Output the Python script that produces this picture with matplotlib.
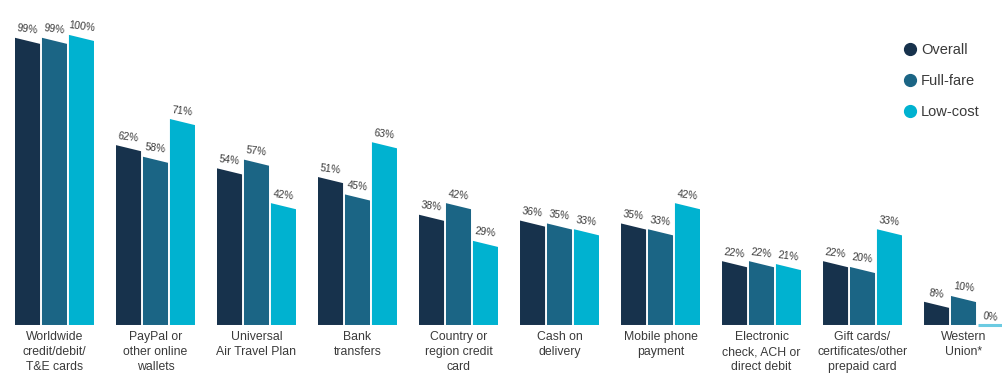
import matplotlib
matplotlib.use("Agg")
import matplotlib.pyplot as plt
from matplotlib.lines import Line2D
import numpy as np

categories = [
    "Worldwide\ncredit/debit/\nT&E cards",
    "PayPal or\nother online\nwallets",
    "Universal\nAir Travel Plan",
    "Bank\ntransfers",
    "Country or\nregion credit\ncard",
    "Cash on\ndelivery",
    "Mobile phone\npayment",
    "Electronic\ncheck, ACH or\ndirect debit",
    "Gift cards/\ncertificates/other\nprepaid card",
    "Western\nUnion*",
]
overall = [99, 62, 54, 51, 38, 36, 35, 22, 22, 8]
full_fare = [99, 58, 57, 45, 42, 35, 33, 22, 20, 10]
low_cost = [100, 71, 42, 63, 29, 33, 42, 21, 33, 0]

series_names = ["Overall", "Full-fare", "Low-cost"]
series_values = [overall, full_fare, low_cost]
colors = ["#17324c", "#1b6585", "#00b2d0"]

plt.rcParams["font.family"] = ["Liberation Sans Narrow", "Liberation Sans", "DejaVu Sans"]

W, H = 1003, 383
fig = plt.figure(figsize=(W / 100, H / 100), dpi=100, facecolor="white")
ax = fig.add_axes([5 / W, 0, 998 / W, 378 / H])
ax.set_facecolor("#f2f2f2")
ax.set_xlim(-0.490, 9.391)
ax.set_ylim(-20.0, 110.3)
ax.axis("off")
ax.patch.set_visible(True)

bar_w = 0.248
step = 0.267
drop = 2.1  # slanted top: right edge sits lower than the left edge
text_color = "#3a3a3a"

x = np.arange(len(categories))
for s, (vals, col) in enumerate(zip(series_values, colors)):
    for i, v in enumerate(vals):
        cx = x[i] + (s - 1) * step
        x0, x1 = cx - bar_w / 2, cx + bar_w / 2
        if v > 0:
            ax.fill([x0, x0, x1, x1], [0, v, max(v - drop, 0), 0],
                    color=col, lw=0)
        else:
            ax.plot([x0, x1], [0, 0], color="#6ccbe2", lw=2.2,
                    solid_capstyle="butt")
        ax.annotate(f"{v}%", (cx, v - 1), xytext=(0, 8), textcoords="offset points",
                    ha="center", va="center", rotation=-7, fontsize=7.5,
                    color=text_color)

for i, name in enumerate(categories):
    ax.annotate(name, (x[i], 0), xytext=(0, -4.5), textcoords="offset points",
                ha="center", va="top", fontsize=8.8, color=text_color,
                linespacing=1.32)

handles = [Line2D([], [], marker="o", ls="", markersize=8.5,
                  markerfacecolor=c, markeredgecolor=c) for c in colors]
fig.legend(handles, series_names, loc="upper left",
           bbox_to_anchor=(896 / W, 1 - 36 / H), frameon=False,
           fontsize=10.5, labelspacing=1.15, handletextpad=0.3,
           handlelength=0.9, borderpad=0, labelcolor=text_color)

fig.savefig("out.png", dpi=100, facecolor="white")
